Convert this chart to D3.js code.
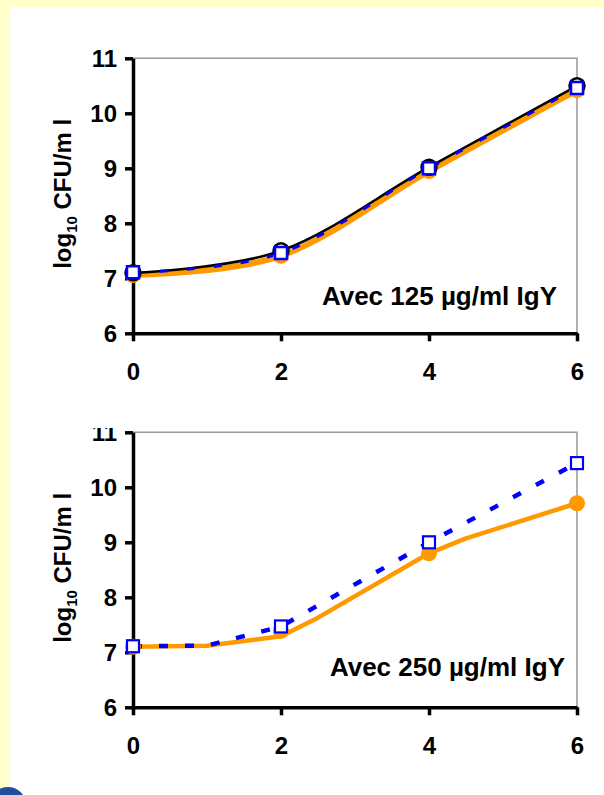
<!DOCTYPE html>
<html><head><meta charset="utf-8">
<script src="https://cdn.jsdelivr.net/npm/d3@7"></script>
<style>
html,body{margin:0;padding:0;background:#FFFFCC;}
svg{display:block;}
text{font-family:"Liberation Sans",Arial,sans-serif;font-weight:bold;fill:#000;}
</style></head>
<body>
<svg id="c" width="604" height="795"></svg>
<script>
// ---- data ----
const xTicks = [0, 2, 4, 6];
const yTicks = [6, 7, 8, 9, 10, 11];
const times = [0, 2, 4, 6];
// top panel (125 µg/ml IgY)
const topBlack  = [7.10, 7.50, 9.02, 10.50];
const topOrange = [7.06, 7.41, 8.95, 10.42];
const topBlue   = [7.11, 7.46, 9.00, 10.46];
// bottom panel (250 µg/ml IgY)
const botOrangeMarkers = [7.10, 7.39, 8.80, 9.71];
const botOrangeLineX = [0, 1, 2, 2.5, 4, 4.5, 6];
const botOrangeLineY = [7.10, 7.12, 7.29, 7.63, 8.80, 9.07, 9.71];
const botBlueLineX = [0, 1, 2, 4, 6];
const botBlueLineY = [7.11, 7.12, 7.47, 9.00, 10.44];
const botBlueMarkers = [7.11, 7.47, 9.00, 10.44];
const labelTop = "Avec 125 µg/ml IgY";
const labelBot = "Avec 250 µg/ml IgY";

const ORANGE = "#FF9900", BLUE = "#0000FF";
const svg = d3.select("#c");
svg.append("rect").attr("x", 10).attr("y", 7).attr("width", 594).attr("height", 788).attr("fill", "#fff");
svg.append("circle").attr("cx", 8).attr("cy", 805).attr("r", 18).attr("fill", "#1F4E9C");

const x = d3.scaleLinear().domain([0, 6]).range([133, 577]);

function panel(y0, y1, clipTop) {
  const y = d3.scaleLinear().domain([6, 11]).range([y1, y0]);
  const g = svg.append("g");
  if (clipTop != null) {
    const id = "clip" + Math.round(y0);
    svg.append("clipPath").attr("id", id).append("rect")
      .attr("x", 0).attr("y", clipTop).attr("width", 604).attr("height", 795 - clipTop);
    g.attr("clip-path", `url(#${id})`);
  }
  g.append("path").attr("d", `M${x(0)},${y(11)}H${x(6)}V${y(6)}`)
    .attr("fill", "none").attr("stroke", "#999").attr("stroke-width", 1.5);
  const ya = g.append("g").attr("transform", `translate(${x(0)},0)`)
    .call(d3.axisLeft(y).tickValues(yTicks).tickSize(8).tickSizeOuter(0).tickPadding(8).tickFormat(d3.format("d")));
  const xa = g.append("g").attr("transform", `translate(0,${y(6)})`)
    .call(d3.axisBottom(x).tickValues(xTicks).tickSize(8).tickSizeOuter(0).tickPadding(22).tickFormat(d3.format("d")));
  [ya, xa].forEach(a => {
    a.select(".domain").attr("stroke", "#000").attr("stroke-width", 3.5);
    a.selectAll(".tick line").attr("stroke", "#000").attr("stroke-width", 3.5);
    a.selectAll(".tick text").attr("font-size", 24).attr("font-family", "Liberation Sans, Arial, sans-serif").attr("font-weight", "bold").attr("fill", "#000");
  });
  ya.selectAll(".tick text").attr("dy", "0.36em");
  const t = g.append("text").attr("transform", `translate(71,${(y(6) + y(11)) / 2 - 2}) rotate(-90)`)
    .attr("text-anchor", "middle").attr("font-size", 24);
  t.append("tspan").text("log");
  t.append("tspan").attr("font-size", 15).attr("dy", 6).text("10");
  t.append("tspan").attr("dy", -6).text(" CFU/m l");
  return {g, y};
}

// ---- top panel ----
{
  const {g, y} = panel(58.3, 333.3, null);
  const line = d3.line().x(d => x(d[0])).y(d => y(d[1])).curve(d3.curveCardinal.tension(0));
  g.append("path").attr("d", line(times.map((t, i) => [t, topOrange[i]])))
    .attr("fill", "none").attr("stroke", ORANGE).attr("stroke-width", 6);
  g.append("path").attr("d", line(times.map((t, i) => [t, topBlack[i]])))
    .attr("fill", "none").attr("stroke", "#000").attr("stroke-width", 2.5);
  g.append("path").attr("d", line(times.map((t, i) => [t, topBlue[i]])))
    .attr("fill", "none").attr("stroke", BLUE).attr("stroke-width", 3).attr("stroke-dasharray", "8,19");
  g.selectAll(".mo").data(times).join("circle")
    .attr("cx", d => x(d)).attr("cy", (d, i) => y(topOrange[i])).attr("r", 8).attr("fill", ORANGE);
  g.selectAll(".mb").data(times).join("circle").attr("class", "mb")
    .attr("cx", d => x(d)).attr("cy", (d, i) => y(topBlack[i])).attr("r", 7.5)
    .attr("fill", "#fff").attr("stroke", "#000").attr("stroke-width", 2.5);
  g.selectAll(".ms").data(times).join("rect").attr("class", "ms")
    .attr("x", d => x(d) - 6).attr("y", (d, i) => y(topBlue[i]) - 6).attr("width", 12).attr("height", 12)
    .attr("fill", "#fff").attr("stroke", BLUE).attr("stroke-width", 2.5);
  g.append("text").attr("x", 557).attr("y", 305).attr("text-anchor", "end").attr("font-size", 26).text(labelTop);
}

// ---- bottom panel ----
{
  const {g, y} = panel(432.3, 707.3, 428);
  const line = d3.line().x(d => x(d[0])).y(d => y(d[1]));
  g.append("path").attr("d", line(botOrangeLineX.map((t, i) => [t, botOrangeLineY[i]])))
    .attr("fill", "none").attr("stroke", ORANGE).attr("stroke-width", 4.5).attr("stroke-linejoin", "round");
  g.append("path").attr("d", line(botBlueLineX.map((t, i) => [t, botBlueLineY[i]])))
    .attr("fill", "none").attr("stroke", BLUE).attr("stroke-width", 4.5).attr("stroke-dasharray", "9,17");
  g.selectAll(".mo").data(times).join("circle").attr("class", "mo")
    .attr("cx", d => x(d)).attr("cy", (d, i) => y(botOrangeMarkers[i])).attr("r", 8).attr("fill", ORANGE);
  g.selectAll(".ms").data(times).join("rect").attr("class", "ms")
    .attr("x", d => x(d) - 6).attr("y", (d, i) => y(botBlueMarkers[i]) - 6).attr("width", 12).attr("height", 12)
    .attr("fill", "#fff").attr("stroke", BLUE).attr("stroke-width", 2.2);
  g.append("text").attr("x", 565).attr("y", 676).attr("text-anchor", "end").attr("font-size", 26).text(labelBot);
}
</script>
</body></html>
